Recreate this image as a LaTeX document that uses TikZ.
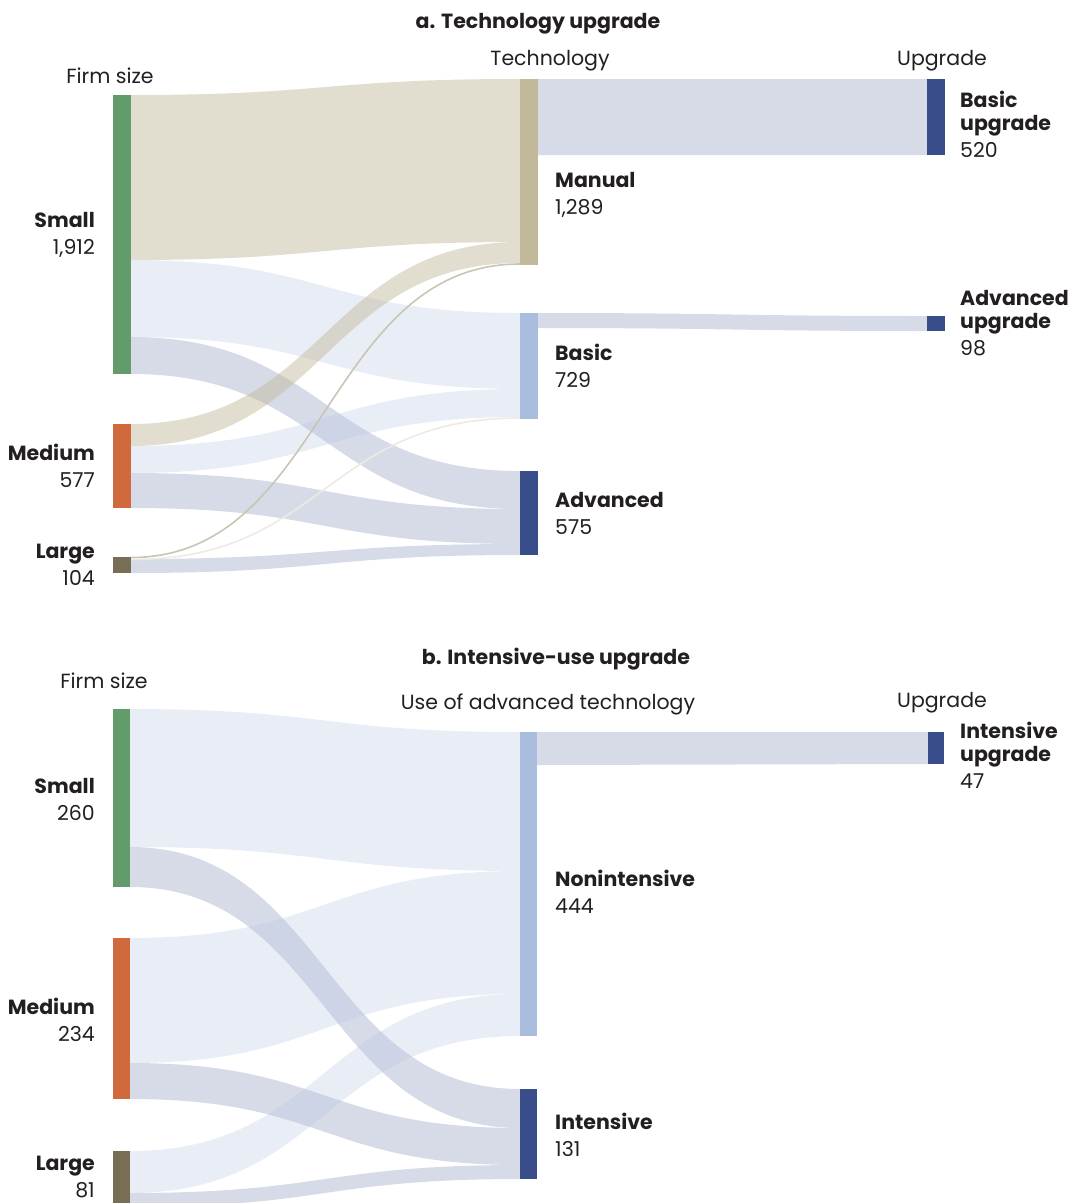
\documentclass[tikz,border=0pt]{standalone}
\usepackage{fontspec}
\setmainfont{Poppins}
\usetikzlibrary{positioning}

\definecolor{smallc}{HTML}{629C6A}
\definecolor{mediumc}{HTML}{D0693B}
\definecolor{largec}{HTML}{776E55}
\definecolor{manualc}{HTML}{C2B99B}
\definecolor{basicc}{HTML}{A9BDDD}
\definecolor{advc}{HTML}{394D8B}
\definecolor{txt}{HTML}{231F20}

% ribbon: style, x1, top1, bottom1, x2, top2, bottom2
\newcommand{\ribbon}[7]{%
  \fill[#1] (#2,#3) .. controls ({(#2+#5)/2},#3) and ({(#2+#5)/2},#6) .. (#5,#6)
    -- (#5,#7) .. controls ({(#2+#5)/2},#7) and ({(#2+#5)/2},#4) .. (#2,#4) -- cycle;}

\begin{document}
\begin{tikzpicture}[x=1pt,y=-1pt,
  every node/.style={text=txt,font=\fontsize{20.5}{23}\selectfont},
  bar/.style={minimum width=18pt,inner sep=0pt,outer sep=0pt,anchor=north west},
  lab/.style={align=right,anchor=east,inner sep=0pt},
  rlab/.style={align=left,anchor=west,inner sep=0pt},
  head/.style={inner sep=0pt,anchor=base},
  title/.style={inner sep=0pt,anchor=base,font=\fontsize{20.5}{23}\selectfont\bfseries},
  manflow/.style={fill=manualc,fill opacity=0.48},
  basflow/.style={fill=basicc,fill opacity=0.25},
  advflow/.style={fill=advc,fill opacity=0.2}]
    \useasboundingbox (0,0) rectangle (1075,1203);

    % a. technology upgrade
    \node[title] (titleA) at (538,28) {a. Technology upgrade};
    \node[head] (firmA) at (110,83) {Firm size};
    \node[head] (techA) at (550,65) {Technology};
    \node[head] (upA) at (942,65) {Upgrade};

    \ribbon{manflow}{131}{95}{260}{520}{79}{242}
    \ribbon{basflow}{131}{260}{337}{520}{313}{389}
    \ribbon{advflow}{131}{337}{374}{520}{471}{509}
    \ribbon{manflow}{131}{424}{446}{520}{242}{263}
    \ribbon{basflow}{131}{446}{473}{520}{389}{417}
    \ribbon{advflow}{131}{473}{508}{520}{509}{544}
    \ribbon{advflow}{131}{559}{573}{520}{544}{555}
    \draw[color=manualc!85!black!60,line width=1.6pt] (131,557.5) .. controls (325,557.5) and (325,264) .. (520,264);
    \draw[color=manualc!30,line width=1.6pt] (131,559.5) .. controls (325,559.5) and (325,418) .. (520,418);
    \ribbon{advflow}{538}{79}{155}{927}{79}{155}
    \ribbon{advflow}{538}{313}{328}{927}{316}{331}

    \node[bar,fill=smallc,minimum height=279pt] (smallA) at (113,95) {};
    \node[bar,fill=mediumc,minimum height=84pt] (mediumA) at (113,424) {};
    \node[bar,fill=largec,minimum height=16pt] (largeA) at (113,557) {};
    \node[bar,fill=manualc,minimum height=186pt] (manualA) at (520,79) {};
    \node[bar,fill=basicc,minimum height=106pt] (basicA) at (520,313) {};
    \node[bar,fill=advc,minimum height=84pt] (advA) at (520,471) {};
    \node[bar,fill=advc,minimum height=76pt] (basupA) at (927,79) {};
    \node[bar,fill=advc,minimum height=15pt] (advupA) at (927,316) {};

    \node[lab] (smallAl) at (95,235) {\textbf{Small}\\[4pt]1,912};
    \node[lab] (mediumAl) at (95,466) {\textbf{Medium}\\[4pt]577};
    \node[lab] (largeAl) at (95,565) {\textbf{Large}\\[4pt]104};
    \node[rlab] (manualAl) at (555,195) {\textbf{Manual}\\[4pt]1,289};
    \node[rlab] (basicAl) at (555,366) {\textbf{Basic}\\[4pt]729};
    \node[rlab] (advAl) at (555,513) {\textbf{Advanced}\\[4pt]575};
    \node[rlab] (basupAl) at (960,124) {\textbf{Basic}\\\textbf{upgrade}\\[4pt]520};
    \node[rlab] (advupAl) at (960,323) {\textbf{Advanced}\\\textbf{upgrade}\\[4pt]98};

    % b. intensive-use upgrade
    \node[title] (titleB) at (556,664) {b. Intensive-use upgrade};
    \node[head] (firmB) at (104,688) {Firm size};
    \node[head] (techB) at (548,709) {Use of advanced technology};
    \node[head] (upB) at (942,707) {Upgrade};

    \ribbon{basflow}{130}{709}{847}{520}{732}{871}
    \ribbon{advflow}{130}{847}{887}{520}{1089}{1128}
    \ribbon{basflow}{130}{938}{1063}{520}{871}{994}
    \ribbon{advflow}{130}{1063}{1099}{520}{1128}{1165}
    \ribbon{basflow}{130}{1151}{1193}{520}{994}{1036}
    \ribbon{advflow}{130}{1193}{1207}{520}{1165}{1179}
    \ribbon{advflow}{537}{732}{765}{928}{732}{764}

    \node[bar,fill=smallc,minimum width=17pt,minimum height=178pt] (smallB) at (113,709) {};
    \node[bar,fill=mediumc,minimum width=17pt,minimum height=161pt] (mediumB) at (113,938) {};
    \node[bar,fill=largec,minimum width=17pt,minimum height=56pt] (largeB) at (113,1151) {};
    \node[bar,fill=basicc,minimum width=17pt,minimum height=304pt] (nonintB) at (520,732) {};
    \node[bar,fill=advc,minimum width=17pt,minimum height=90pt] (intB) at (520,1089) {};
    \node[bar,fill=advc,minimum width=16pt,minimum height=32pt] (intupB) at (928,732) {};

    \node[lab] (smallBl) at (95,799) {\textbf{Small}\\[4pt]260};
    \node[lab] (mediumBl) at (95,1020) {\textbf{Medium}\\[4pt]234};
    \node[lab] (largeBl) at (95,1177) {\textbf{Large}\\[4pt]81};
    \node[rlab] (nonintBl) at (555,892) {\textbf{Nonintensive}\\[4pt]444};
    \node[rlab] (intBl) at (555,1135) {\textbf{Intensive}\\[4pt]131};
    \node[rlab] (intupBl) at (960,755) {\textbf{Intensive}\\\textbf{upgrade}\\[4pt]47};
\end{tikzpicture}
\end{document}
